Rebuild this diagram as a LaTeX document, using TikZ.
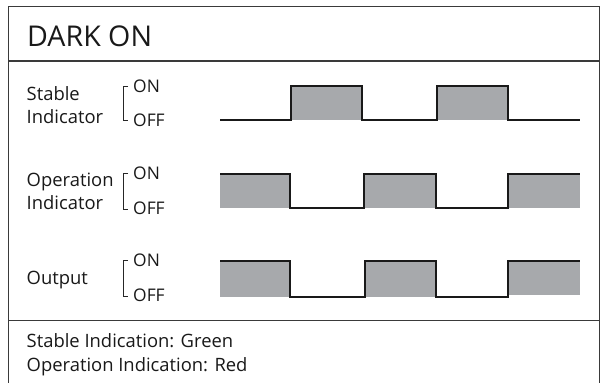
\documentclass[tikz,border=0pt]{standalone}
\usepackage{fontspec}
\setmainfont{Open Sans}
\definecolor{sgray}{HTML}{A7A9AC}
\definecolor{frame}{HTML}{3A3A3A}
\begin{document}
\begin{tikzpicture}[x=1pt,y=-1pt,
  lbl/.style={anchor=base west,inner sep=0pt,font=\fontsize{18.4}{22}\selectfont,text=black!90},
  onoff/.style={anchor=base west,inner sep=0pt,font=\fontsize{17.4}{20}\selectfont,text=black!90},
  framel/.style={draw=frame,line width=1.4pt},
  sig/.style={draw=black!90,line width=2.2pt,line join=miter,line cap=butt},
  brk/.style={draw=black!85,line width=0.9pt},
  fillr/.style={fill=sgray,draw=none}]
\useasboundingbox (0,0) rectangle (603,383);
\fill[white] (0,0) rectangle (603,383);
% frame
\draw[framel] (8.3,390) -- (8.3,6.3) -- (599.3,6.3) -- (599.3,390);
\draw[framel] (8.3,61) -- (599.3,61);
\draw[framel] (8.3,320.7) -- (599.3,320.7);
% title
\node[anchor=base west,inner sep=0pt,font=\fontsize{28.6}{30}\selectfont,text=black!90] (title) at (27,46) {DARK ON};
% labels
\node[lbl] (st1) at (26.5,100.7) {Stable};
\node[lbl] (st2) at (26.5,123) {Indicator};
\node[lbl] (op1) at (26.5,186) {Operation};
\node[lbl] (op2) at (26.5,209.5) {Indicator};
\node[lbl] (out) at (26.5,284) {Output};
% ON/OFF labels and brackets
\foreach \n/\yon/\yoff in {a/92/126, b/179/214.5, c/266/301.5}{
  \node[onoff] (on\n) at (133,\yon) {ON};
  \node[onoff] (off\n) at (133,\yoff) {OFF};
  \draw[brk] (128,\yon-5.5) -- (123.5,\yon-5.5) -- (123.5,\yoff-5.5) -- (128,\yoff-5.5);
}
% Stable signal: high 86, low 120
\fill[sgray] (291,86) rectangle (362,120);
\fill[sgray] (437,86) rectangle (508,120);
\draw[sig] (220,120) -- (291,120) -- (291,86) -- (362,86) -- (362,120) -- (437,120) -- (437,86) -- (508,86) -- (508,120) -- (580,120);
% Operation signal: high 174, low 208
\fill[sgray] (220,174) rectangle (290,208);
\fill[sgray] (364,174) rectangle (436,208);
\fill[sgray] (508,174) rectangle (580,208);
\draw[sig] (220,174) -- (290,174) -- (290,208) -- (364,208) -- (364,174) -- (436,174) -- (436,208) -- (508,208) -- (508,174) -- (580,174);
% Output signal: high 261, low 297
\fill[sgray] (220,261) rectangle (290,297);
\fill[sgray] (365,261) rectangle (436,297);
\fill[sgray] (508,261) rectangle (580,294.5);
\draw[sig] (220,261) -- (290,261) -- (290,297) -- (365,297) -- (365,261) -- (436,261) -- (436,297) -- (508,297) -- (508,261) -- (580,261);
% bottom text
\node[lbl] (leg1) at (26.5,347.7) {Stable Indication: Green};
\node[lbl] (leg2) at (26.5,371) {Operation Indication: Red};
\end{tikzpicture}
\end{document}
